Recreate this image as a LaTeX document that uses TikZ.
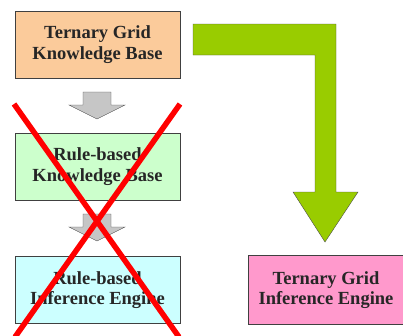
\documentclass[tikz,border=0pt]{standalone}
\usepackage{fontspec}
\setmainfont{Liberation Serif}
\definecolor{peach}{HTML}{FBCB9B}
\definecolor{mint}{HTML}{CCFFCC}
\definecolor{icecyan}{HTML}{CCFFFF}
\definecolor{rosepink}{HTML}{FF99CC}
\definecolor{limegreen}{HTML}{99CC00}
\begin{document}
\begin{tikzpicture}[x=1pt,y=-1pt,
	kbox/.style={draw=black!75,thick,minimum width=165pt,minimum height=67pt,align=center,font=\fontsize{18.5}{20.5}\selectfont\bfseries,text=black!85},
	blockarrow/.style={draw=black!70,fill=gray!45}]
		\useasboundingbox (0,0) rectangle (403,335);
		\node[kbox,fill=peach] (tgkb) at (97.5,44.5) {Ternary Grid\\Knowledge Base};
		\node[kbox,fill=mint] (rbkb) at (97.5,166.5) {Rule-based\\Knowledge Base};
		\node[kbox,fill=icecyan] (rbie) at (97.5,290) {Rule-based\\Inference Engine};
		\node[kbox,fill=rosepink,minimum width=156pt,minimum height=69pt] (tgie) at (326,290) {Ternary Grid\\Inference Engine};
		% gray arrows between the left boxes
		\foreach \top in {92,214} \draw[blockarrow] (83,\top) -- (111,\top) -- (111,\top+13) -- (125,\top+13) -- (97,\top+27) -- (69,\top+13) -- (83,\top+13) -- cycle;
		% bent green arrow
		\draw[draw=black!70,fill=limegreen] (193,24) -- (336,24) -- (336,192) -- (358,192) -- (325,242) -- (293,192) -- (315,192) -- (315,55) -- (193,55) -- cycle;
		% red cross
		\draw[red,line width=5.5pt] (14,104) -- (179,337);
		\draw[red,line width=5.5pt] (180,104) -- (15,337);
	\end{tikzpicture}
\end{document}
